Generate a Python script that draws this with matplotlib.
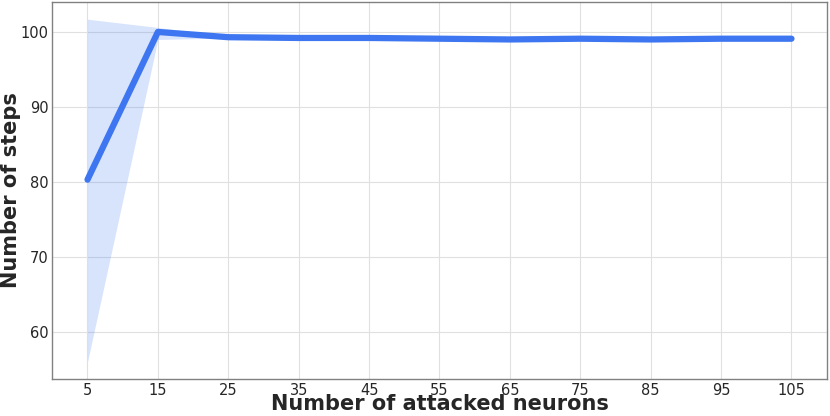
import matplotlib
matplotlib.use("Agg")
import matplotlib.pyplot as plt
import numpy as np

# data
neurons = [5, 15, 25, 35, 45, 55, 65, 75, 85, 95, 105]
steps_mean = [80.3, 100.0, 99.3, 99.2, 99.2, 99.1, 99.0, 99.1, 99.0, 99.1, 99.1]
steps_low = [56.0, 99.0, 99.2, 99.1, 99.1, 99.0, 98.9, 99.0, 98.9, 99.0, 99.0]
steps_high = [101.7, 100.6, 99.4, 99.3, 99.3, 99.2, 99.1, 99.2, 99.1, 99.2, 99.2]

line_color = "#3d76f0"

fig, ax = plt.subplots(figsize=(8.3, 4.16), dpi=100)
ax.fill_between(neurons, steps_low, steps_high, color=line_color, alpha=0.2, linewidth=0)
ax.plot(neurons, steps_mean, color=line_color, linewidth=4.5, solid_capstyle="round")

ax.set_xlim(0, 110)
ax.set_xticks(neurons)
ax.set_yticks([60, 70, 80, 90, 100])
ax.grid(True, color="#e0e0e0", linewidth=0.8)
ax.set_axisbelow(True)
for s in ax.spines.values():
    s.set_color("#808080")
    s.set_linewidth(1.0)
ax.tick_params(axis="both", length=0, labelsize=10.5, colors="#262626")
ax.tick_params(axis="x", pad=3)
ax.tick_params(axis="y", pad=2.5)

ax.set_xlabel("Number of attacked neurons", fontsize=15, fontweight="bold", color="#262626")
ax.xaxis.set_label_coords(0.5, -0.041)
ax.set_ylabel("Number of steps", fontsize=15, fontweight="bold", color="#262626")
ax.yaxis.set_label_coords(-0.04, 0.5)

fig.subplots_adjust(left=0.063, right=0.996, top=0.995, bottom=0.089)
fig.savefig("out.png", dpi=100)
